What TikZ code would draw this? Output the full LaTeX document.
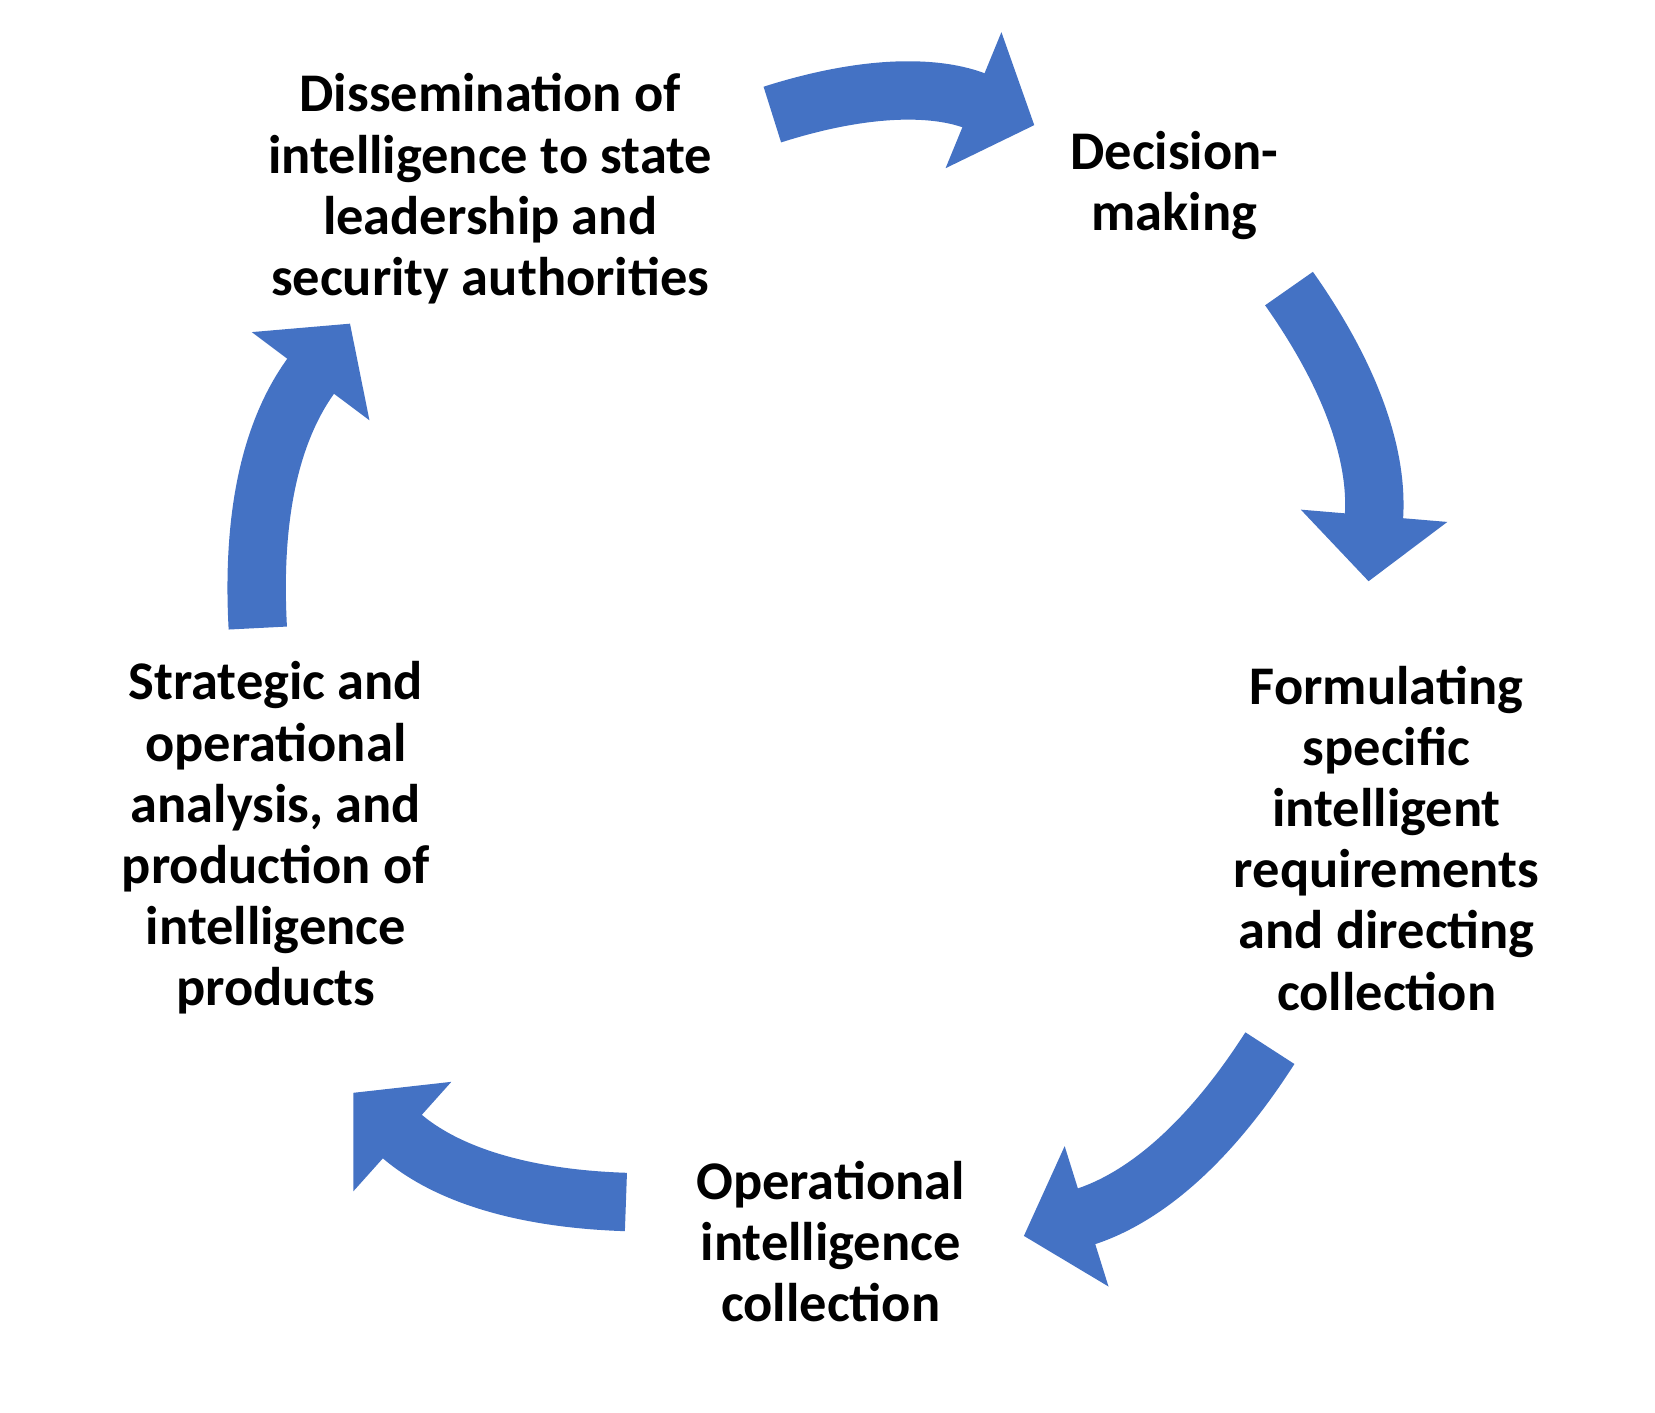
\documentclass[tikz,border=0pt]{standalone}
\usepackage{fontspec}
\setmainfont{Carlito}
\usetikzlibrary{arrows.meta}
\definecolor{cyclblue}{RGB}{68,114,196}
\tikzset{
  stage/.style={align=center, font=\bfseries\fontsize{14.6}{16.4}\selectfont},
  flow/.style={draw=cyclblue, line width=0.55cm,
    -{Triangle[width=1.35cm,length=0.62cm]}, bend left=20}
}

\begin{document}
\begin{tikzpicture}[x=0.01cm,y=-0.01cm]
\useasboundingbox (0,0) rectangle (1560,1331);
% stages
\node[stage] (diss) at (462,178) {Dissemination of\\intelligence to state\\leadership and\\security authorities};
\node[stage] (dec) at (1107,175) {Decision-\\making};
\node[stage] (form) at (1307,790) {Formulating\\specific\\intelligent\\requirements\\and directing\\collection};
\node[stage] (oper) at (783,1170) {Operational\\intelligence\\collection};
\node[stage] (strat) at (260,790) {Strategic and\\operational\\analysis, and\\production of\\intelligence\\products};
% arrow ends
\coordinate (a1) at (728,108);  \coordinate (b1) at (975,118);
\coordinate (a2) at (1215,272); \coordinate (b2) at (1290,548);
\coordinate (a3) at (1197,988); \coordinate (b3) at (965,1165);
\coordinate (a4) at (590,1133); \coordinate (b4) at (333,1030);
\coordinate (a5) at (243,592);  \coordinate (b5) at (330,305);
% arrows
\draw[flow] (a1) to (b1);
\draw[flow] (a2) to (b2);
\draw[flow] (a3) to (b3);
\draw[flow] (a4) to (b4);
\draw[flow] (a5) to (b5);
\end{tikzpicture}
\end{document}
